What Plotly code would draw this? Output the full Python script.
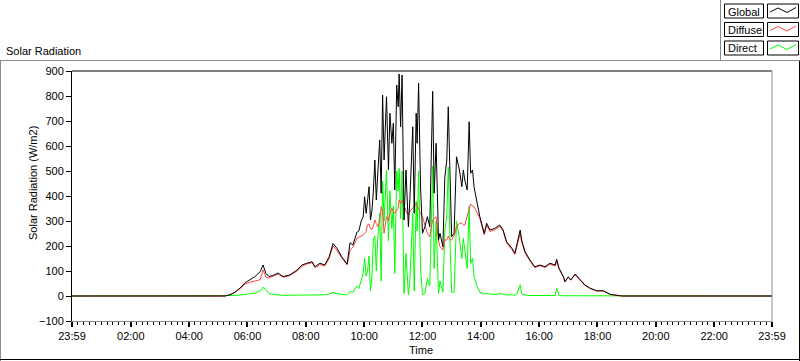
import plotly.graph_objects as go

# ---- data (time in minutes after midnight; 23:59 of previous day = -1) ----
minutes = [
    -1, 314, 324, 334, 345, 355, 365, 375, 386, 392,
    398, 404, 412, 423, 433, 447, 462, 472, 482, 493,
    499, 509, 519, 528, 536, 544, 554, 565, 571, 577,
    585, 589, 594, 598, 601, 604, 607, 610, 613, 616,
    619, 622, 625, 628, 632, 635, 638, 641, 646, 650,
    653, 657, 660, 663, 667, 670, 672, 675, 678, 682,
    686, 691, 694, 700, 703, 707, 709, 712, 716, 720,
    725, 730, 735, 741, 744, 748, 753, 756, 762, 766,
    770, 773, 777, 780, 785, 790, 796, 801, 804, 807,
    812, 816, 819, 823, 826, 832, 838, 847, 852, 859,
    869, 879, 886, 893, 904, 910, 914, 921, 924, 931,
    941, 951, 962, 972, 982, 993, 996, 1001, 1010, 1013,
    1020, 1025, 1034, 1044, 1054, 1065, 1078, 1092, 1106, 1126,
    1132, 1439,
]

global_rad = [
    0, 0, 5, 15, 32, 53, 65, 77, 97, 124,
    90, 78, 82, 92, 78, 84, 104, 124, 131, 137,
    117, 131, 124, 157, 210, 191, 157, 128, 213, 204,
    255, 260, 300, 317, 397, 331, 380, 437, 304, 340,
    420, 544, 384, 500, 624, 411, 804, 544, 797, 504,
    731, 611, 691, 424, 844, 757, 888, 677, 884, 304,
    504, 277, 384, 677, 331, 731, 611, 851, 437, 251,
    277, 317, 277, 819, 411, 611, 224, 251, 197, 477,
    544, 757, 411, 237, 251, 557, 504, 437, 504, 464,
    424, 697, 491, 504, 437, 371, 317, 251, 291, 264,
    271, 284, 264, 217, 191, 171, 204, 264, 224, 177,
    144, 117, 124, 117, 131, 124, 147, 111, 77, 57,
    77, 64, 88, 64, 44, 31, 21, 21, 7, 1,
    0, 0,
]

diffuse_rad = [
    0, 0, 5, 14, 30, 48, 55, 60, 65, 105,
    75, 72, 78, 88, 75, 82, 100, 118, 128, 133,
    113, 126, 120, 150, 200, 183, 152, 124, 184, 195,
    231, 235, 238, 244, 250, 258, 285, 288, 270, 266,
    280, 304, 290, 277, 300, 357, 340, 251, 317, 300,
    330, 351, 340, 331, 344, 350, 384, 370, 384, 357,
    340, 324, 340, 351, 360, 371, 360, 350, 331, 317,
    280, 251, 237, 304, 310, 317, 220, 197, 184, 224,
    224, 240, 224, 224, 240, 277, 291, 291, 285, 284,
    320, 350, 368, 360, 357, 335, 310, 245, 283, 258,
    265, 278, 258, 212, 186, 166, 196, 250, 215, 172,
    140, 114, 121, 114, 127, 120, 140, 108, 75, 56,
    75, 63, 85, 62, 42, 30, 20, 20, 6, 1,
    0, 0,
]

direct_rad = [
    0, 0, 1, 2, 4, 6, 8, 12, 20, 35,
    25, 10, 6, 4, 3, 3, 3, 3, 4, 4,
    4, 5, 5, 8, 14, 10, 6, 5, 18, 15,
    40, 30, 60, 90, 151, 80, 100, 160, 20, 80,
    224, 240, 100, 230, 330, 60, 460, 300, 504, 220,
    420, 270, 360, 90, 500, 420, 510, 310, 500, 10,
    170, 5, 60, 330, 20, 380, 260, 500, 110, 5,
    10, 70, 40, 520, 110, 300, 10, 60, 15, 260,
    320, 516, 190, 15, 15, 300, 230, 150, 230, 180,
    110, 360, 130, 150, 80, 40, 15, 8, 10, 8,
    6, 10, 6, 4, 5, 3, 8, 45, 8, 4,
    2, 2, 2, 2, 2, 2, 30, 2, 1, 1,
    1, 1, 1, 1, 1, 1, 0, 0, 0, 0,
    0, 0,
]

series_names = ["Global", "Diffuse", "Direct"]
series_colors = ["#000000", "#ff4646", "#00ff00"]

x_tick_vals = [-1, 120, 240, 360, 480, 600, 720, 840, 960, 1080, 1200, 1320, 1439]
x_tick_text = ["23:59", "02:00", "04:00", "06:00", "08:00", "10:00", "12:00",
               "14:00", "16:00", "18:00", "20:00", "22:00", "23:59"]
x_minor_vals = list(range(11, 1439, 12))
y_tick_vals = [-100, 0, 100, 200, 300, 400, 500, 600, 700, 800, 900]

# ---- layout geometry (pixels) ----
W, H = 800, 361
L, R, T, B = 72, 772, 71, 321


def px(x):
    return (x - L) / (R - L)


def py(y):
    return (B - y) / (B - T)


FONT = "Liberation Sans"

fig = go.Figure()
data_by_name = {"Global": global_rad, "Diffuse": diffuse_rad, "Direct": direct_rad}
for name in ["Direct", "Diffuse", "Global"]:
    col = series_colors[series_names.index(name)]
    fig.add_trace(go.Scatter(x=minutes, y=data_by_name[name], mode="lines", name=name,
                             line=dict(color=col, width=1), showlegend=False))

fig.update_layout(
    width=W, height=H,
    margin=dict(l=L, r=W - R, t=T, b=H - B),
    paper_bgcolor="white", plot_bgcolor="white",
    font=dict(family=FONT, size=11, color="black"),
    showlegend=False,
)

fig.update_xaxes(
    range=[-1, 1439], tickmode="array", tickvals=x_tick_vals, ticktext=x_tick_text,
    ticks="outside", ticklen=5, tickwidth=2, tickcolor="black",
    showgrid=False, zeroline=False, showline=True, linecolor="#8c8c8c", linewidth=1,
    tickfont=dict(family=FONT, size=11, color="black"),
    minor=dict(tickmode="array", tickvals=x_minor_vals, ticks="outside", ticklen=3,
               tickwidth=1, tickcolor="black", showgrid=False),
)
fig.update_yaxes(
    range=[-100, 900], tickmode="array", tickvals=y_tick_vals,
    ticks="outside", ticklen=5, tickwidth=1, tickcolor="black",
    showgrid=False, zeroline=False, showline=True, linecolor="black", linewidth=1,
    tickfont=dict(family=FONT, size=11, color="black"),
)

shapes = []


def hline(x0, x1, y, color, w=1):
    shapes.append(dict(type="line", xref="paper", yref="paper",
                       x0=px(x0), x1=px(x1), y0=py(y), y1=py(y),
                       line=dict(color=color, width=w)))


def vline(x, y0, y1, color, w=1):
    shapes.append(dict(type="line", xref="paper", yref="paper",
                       x0=px(x), x1=px(x), y0=py(y0), y1=py(y1),
                       line=dict(color=color, width=w)))


# plot frame: top black, right gray
hline(L, R, T, "black")
vline(R, T, B, "#8c8c8c")
# outer panel
hline(0, 799, 60.5, "#8c8c8c")
vline(0.5, 60.5, 361, "#8c8c8c")
hline(0, 800, 359.5, "black")
vline(799.5, 60.5, 361, "black")
# legend panel left edge
vline(720.5, 0, 60.5, "#8c8c8c")

annotations = []
# legend
row_tops = [4, 22.5, 41]
for i, name in enumerate(series_names):
    y0 = row_tops[i]
    y1 = y0 + 14
    shapes.append(dict(type="rect", xref="paper", yref="paper",
                       x0=px(724.5), x1=px(763.5), y0=py(y0), y1=py(y1),
                       line=dict(color="black", width=1), fillcolor="white"))
    shapes.append(dict(type="rect", xref="paper", yref="paper",
                       x0=px(767.5), x1=px(798.5), y0=py(y0), y1=py(y1),
                       line=dict(color="black", width=1), fillcolor="white"))
    pts = [(770, y0 + 8), (778, y0 + 4), (787, y0 + 8.5), (796, y0 + 3.5)]
    path = "M " + " L ".join(f"{px(a):.5f},{py(b):.5f}" for a, b in pts)
    shapes.append(dict(type="path", xref="paper", yref="paper", path=path,
                       line=dict(color=series_colors[i], width=1)))
    annotations.append(dict(x=px(726), y=py(y0 + 7.5), xref="paper", yref="paper",
                            text=name, showarrow=False, xanchor="left", yanchor="middle",
                            font=dict(family=FONT, size=11, color="black")))

annotations.append(dict(x=px(4), y=py(51), xref="paper", yref="paper", text="Solar Radiation",
                        showarrow=False, xanchor="left", yanchor="middle",
                        font=dict(family=FONT, size=11, color="black")))
annotations.append(dict(x=px(33), y=py(183), xref="paper", yref="paper",
                        text="Solar Radiation (W/m2)", textangle=-90,
                        showarrow=False, xanchor="center", yanchor="middle",
                        font=dict(family=FONT, size=11, color="black")))
annotations.append(dict(x=px(421), y=py(350), xref="paper", yref="paper", text="Time",
                        showarrow=False, xanchor="center", yanchor="middle",
                        font=dict(family=FONT, size=11, color="black")))

fig.update_layout(shapes=shapes, annotations=annotations)

fig.write_html(
    "out.html",
    config={"displayModeBar": False},
    post_script="document.body.style.margin='0';document.body.style.overflow='hidden';",
)
